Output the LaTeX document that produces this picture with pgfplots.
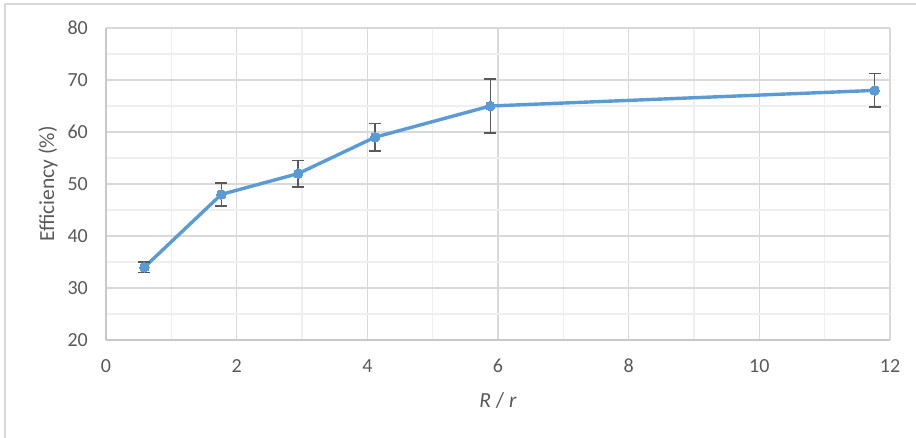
\documentclass[border=0pt]{standalone}
\usepackage{pgfplots}
\pgfplotsset{compat=1.18}
\usepackage{fontspec}
\setmainfont{Carlito}
\definecolor{lineblue}{HTML}{5B9BD5}
\definecolor{majgrid}{HTML}{D9D9D9}
\definecolor{mingrid}{HTML}{EFEFEF}
\definecolor{axgray}{HTML}{C8C8C8}
\definecolor{txtgray}{HTML}{595959}
\definecolor{errgray}{HTML}{595959}
\begin{document}
\begin{tikzpicture}
\useasboundingbox (0pt,0pt) rectangle (916pt,437pt);
\draw[color=majgrid, line width=1.2pt] (5pt,-10pt) -- (5pt,433pt) -- (930pt,433pt);
\begin{axis}[
  at={(106pt,97pt)}, anchor=south west,
  scale only axis, width=784pt, height=312pt,
  xmin=0, xmax=12, ymin=20, ymax=80,
  xtick={0,2,...,12}, ytick={20,30,...,80},
  minor x tick num=1, minor y tick num=1,
  grid=both,
  major grid style={color=majgrid, line width=1.1pt},
  minor grid style={color=mingrid, line width=1.1pt},
  axis x line*=bottom, axis y line*=left,
  axis line style={color=axgray, line width=1.3pt, -},
  tick style={draw=none},
  major tick length=0pt, minor tick length=0pt,
  /pgf/number format/assume math mode=true,
  tick label style={font=\fontsize{20}{22}\selectfont, text=txtgray, inner sep=0pt},
  xticklabel style={anchor=base, yshift=-32pt},
  yticklabel style={anchor=east, xshift=-18pt},
  xlabel={\textit{R} / \textit{r}},
  ylabel={Efficiency (\%)},
  label style={font=\fontsize{21.5}{24}\selectfont, text=txtgray},
  xlabel style={at={(axis description cs:0.5,0)}, anchor=center, yshift=-60pt},
  ylabel style={at={([xshift=-58pt]axis description cs:0,0.5)}, anchor=center},
  clip=false,
]
\addplot[
  color=lineblue, line width=3.4pt, line join=round,
  mark=*, mark size=4.8pt, mark options={fill=lineblue, draw=lineblue, line width=0pt},
  error bars/.cd, y dir=both, y explicit,
  error bar style={color=errgray, line width=1.4pt},
  error mark options={rotate=90, mark size=6pt, line width=1.4pt, color=errgray},
] coordinates {
  (0.588,34) +- (0,1.0)
  (1.765,48) +- (0,2.2)
  (2.941,52) +- (0,2.55)
  (4.118,59) +- (0,2.65)
  (5.882,65) +- (0,5.2)
  (11.765,68) +- (0,3.2)
};
\end{axis}
\end{tikzpicture}
\end{document}
